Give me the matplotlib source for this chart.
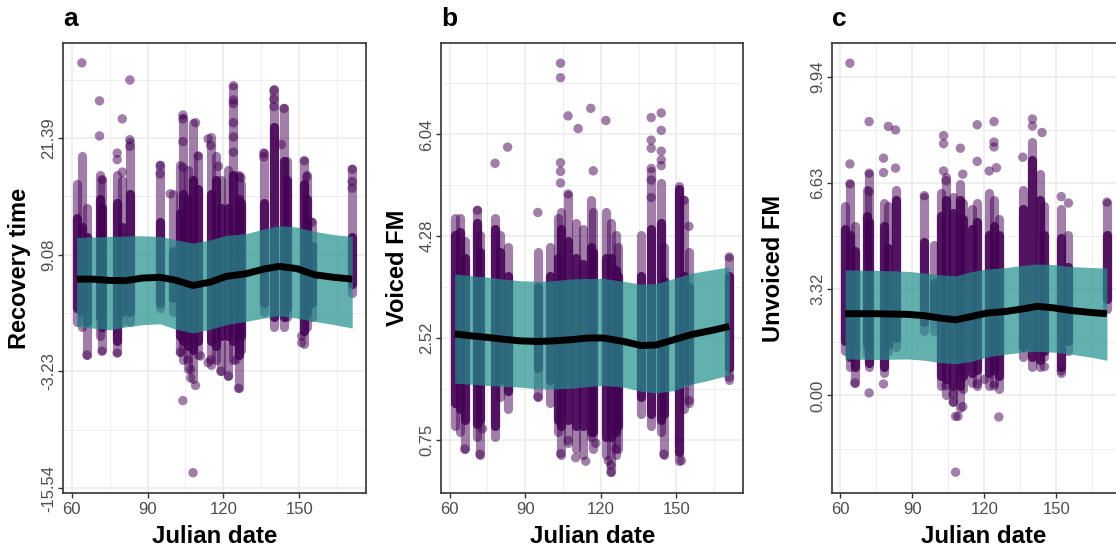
import matplotlib.pyplot as plt

plt.rcParams['font.family'] = ['Liberation Sans', 'DejaVu Sans']

"""
    Data read off the reference
    ------------------------------------------------------------
"""
# Dates where the smooth fit and its ribbon were read.
fit_days = [62, 68, 75, 81, 88, 95, 101, 108, 115, 121, 129, 136, 142, 149, 156, 164, 171]

# a - Recovery time
rec_mid = [6.51, 6.51, 6.37, 6.34, 6.62, 6.70, 6.40, 5.84, 6.20, 6.79, 7.08, 7.57, 7.85, 7.62, 6.97, 6.69, 6.51]
rec_top = [10.91, 10.95, 11.01, 11.05, 11.08, 11.01, 10.66, 10.31, 10.66, 11.12, 11.30, 11.79, 12.14, 12.0, 11.54, 11.19, 11.01]
rec_bot = [1.52, 1.35, 1.17, 1.45, 1.70, 1.80, 1.24, 0.82, 1.24, 1.70, 2.05, 2.40, 2.65, 2.40, 2.05, 1.70, 1.35]

rec_days = [62, 64, 66, 71, 72, 78, 80, 83, 95, 100, 103, 104, 106, 108, 110, 115, 117, 119,
            122, 124, 126, 127, 136, 140, 144, 145, 152, 153, 155, 171]
rec_lo = [2.0, 1.5, -1.5, 0.5, -1.0, -1.2, 2.0, 2.0, 3.5, 3.0, -1.2, -2.0, -3.0, -4.0, -1.5, -2.5, -2.0, -3.2,
          -3.7, -2.0, -5.0, -1.0, 3.0, 1.5, 1.5, 2.5, -0.3, 1.5, 2.5, 5.0]
rec_core_lo = [3.5, 3.0, 2.0, 2.5, 1.5, 0.0, 3.0, 3.0, 4.0, 4.5, 0.5, 0.0, -0.5, -1.0, 0.0, 0.0, -0.5, 0.5,
               0.5, 0.0, -1.5, 0.5, 4.0, 2.5, 2.5, 3.5, 1.0, 3.0, 4.0, 6.0]
rec_core_hi = [13.0, 12.0, 11.0, 15.0, 14.0, 14.5, 12.0, 15.5, 12.5, 9.5, 13.5, 15.5, 15.0, 17.0, 16.0, 15.5, 17.0, 14.0,
               14.0, 17.5, 15.0, 14.5, 14.5, 22.5, 19.0, 17.0, 16.5, 15.0, 10.0, 11.0]
rec_hi = [16.5, 19.5, 14.0, 17.5, 17.0, 17.5, 17.0, 21.0, 18.5, 15.5, 18.5, 23.5, 18.0, 23.0, 19.5, 21.5, 19.5, 17.0,
          18.0, 26.8, 17.5, 16.5, 19.8, 26.5, 24.5, 19.0, 19.0, 17.5, 12.5, 18.1]
rec_out_x = [64, 71, 71, 72, 78, 78, 80, 80, 83, 83, 83, 95, 95, 99, 104, 104, 104, 104, 109, 110, 114, 115, 118,
             124, 124, 124, 124, 124, 124, 126, 127, 136, 136, 140, 140, 140, 144, 143, 152, 153, 155, 171, 171, 171,
             66, 72, 78, 103, 104, 106, 107, 107, 108, 109, 111, 114, 115, 119, 122, 125, 126, 151, 151]
rec_out_y = [29.3, 25.3, 21.6, 17.0, 19.8, 19.1, 23.4, 17.8, 27.5, 21.2, 20.5, 18.5, 17.6, 15.5, 23.8, 23.4, 21.0, 18.3,
             23.0, 19.5, 21.3, 20.6, 18.4, 26.9, 25.4, 25.0, 23.0, 21.5, 19.9, 17.3, 17.2, 19.8, 19.4, 26.4, 25.5, 24.7,
             24.5, 20.7, 19.0, 17.3, 12.5, 18.1, 16.8, 16.1,
             -1.5, -1.1, -1.3, -1.2, -6.3, -2.0, -3.0, -3.9, -13.9, -4.7, -1.6, -2.3, -2.0, -3.2, -3.7, -2.0, -5.0, 0.5, -0.2]

# b - Voiced FM
voi_mid = [2.59, 2.56, 2.53, 2.50, 2.47, 2.46, 2.47, 2.49, 2.52, 2.52, 2.46, 2.39, 2.40, 2.49, 2.58, 2.65, 2.72]
voi_top = [3.63, 3.60, 3.57, 3.54, 3.51, 3.50, 3.51, 3.54, 3.55, 3.55, 3.50, 3.45, 3.46, 3.55, 3.64, 3.70, 3.75]
voi_bot = [1.74, 1.72, 1.70, 1.685, 1.67, 1.64, 1.64, 1.65, 1.68, 1.70, 1.67, 1.60, 1.57, 1.61, 1.72, 1.80, 1.88]

voi_days = [62, 64, 66, 71, 72, 78, 80, 83, 95, 100, 103, 104, 107, 110, 113, 116, 117, 122,
            124, 126, 127, 136, 140, 144, 145, 151, 153, 155, 171]
voi_lo = [1.0, 0.9, 0.6, 0.8, 0.5, 0.8, 1.5, 1.3, 1.5, 1.4, 0.9, 0.5, 0.7, 0.6, 0.5, 0.8, 0.6, 0.5,
          0.2, 0.5, 0.6, 1.2, 1.0, 0.9, 0.5, 0.4, 1.3, 1.4, 1.8]
voi_core_lo = [1.4, 1.3, 1.1, 1.04, 1.1, 1.0, 1.8, 1.6, 2.0, 1.8, 1.1, 1.0, 1.1, 1.0, 1.0, 0.9, 0.9, 0.8,
               0.8, 0.9, 1.0, 1.5, 1.2, 1.1, 1.2, 0.55, 1.8, 1.8, 2.0]
voi_core_hi = [4.3, 4.35, 3.9, 4.5, 4.0, 4.4, 4.0, 3.6, 3.4, 3.6, 3.9, 4.4, 4.2, 3.9, 3.8, 4.1, 4.0, 3.9,
               3.9, 3.7, 3.6, 3.6, 4.4, 4.5, 3.5, 5.1, 3.6, 3.4, 3.6]
voi_hi = [4.6, 4.6, 4.2, 4.73, 4.3, 4.6, 4.3, 4.1, 4.0, 4.1, 4.6, 4.7, 5.0, 4.5, 4.4, 4.9, 4.7, 4.7,
          4.5, 4.3, 4.1, 4.3, 5.4, 5.2, 4.1, 5.15, 4.9, 4.0, 3.9]
voi_out_x = [104, 104, 104, 104, 104, 107, 107, 111, 116, 117, 122, 78, 83, 71, 95, 140, 140, 140, 140, 140, 140,
             144, 144, 144, 144, 144, 153, 155, 171,
             66, 72, 73, 104, 107, 110, 114, 118, 123, 124, 124, 126, 145, 152, 155, 95, 171]
voi_out_y = [7.27, 7.02, 5.55, 5.40, 5.20, 6.36, 5.01, 6.14, 6.49, 5.41, 6.28, 5.54, 5.82, 4.73, 4.69, 6.33, 5.94,
             5.80, 5.45, 5.25, 4.95, 6.41, 6.11, 5.75, 5.60, 5.50, 4.9, 4.45, 3.92,
             0.60, 0.51, 0.95, 0.52, 0.75, 0.45, 0.39, 0.70, 0.40, 0.20, 0.32, 0.60, 0.51, 0.40, 1.44, 1.50, 1.84]

# c - Unvoiced FM
unv_mid = [2.55, 2.55, 2.55, 2.54, 2.53, 2.49, 2.42, 2.36, 2.47, 2.57, 2.62, 2.70, 2.78, 2.73, 2.65, 2.59, 2.55]
unv_top = [3.92, 3.91, 3.90, 3.89, 3.87, 3.82, 3.77, 3.73, 3.87, 3.94, 3.99, 4.06, 4.10, 4.08, 4.02, 3.99, 3.97]
unv_bot = [1.14, 1.13, 1.12, 1.13, 1.14, 1.10, 1.03, 0.99, 1.07, 1.20, 1.29, 1.35, 1.38, 1.35, 1.29, 1.20, 1.10]

unv_days = [62, 64, 66, 71, 72, 78, 80, 83, 95, 99, 102, 104, 107, 110, 111, 115, 117, 122,
            124, 126, 136, 140, 143, 145, 152, 155, 171]
unv_lo = [1.4, 0.9, 0.4, 1.3, 0.9, 0.7, 1.4, 1.5, 2.0, 2.0, 0.3, 0.0, -0.2, -0.4, 0.2, 0.4, 0.3, 0.3,
          0.4, 0.2, 1.2, 0.9, 0.9, 1.2, 0.7, 1.4, 2.7]
unv_core_lo = [1.7, 1.2, 0.9, 1.6, 1.0, 0.9, 1.6, 1.8, 2.3, 2.5, 0.6, 0.5, 0.3, 0.3, 0.6, 0.7, 0.8, 0.7,
               0.8, 0.6, 1.5, 1.2, 1.1, 1.4, 0.9, 1.7, 3.0]
unv_core_hi = [5.2, 5.0, 4.5, 5.6, 5.4, 5.3, 4.6, 6.1, 4.8, 3.5, 5.6, 6.1, 5.7, 6.1, 5.5, 5.2, 5.4, 5.0,
               5.3, 5.0, 5.8, 7.35, 6.1, 5.0, 4.9, 4.0, 5.0]
unv_hi = [5.9, 6.6, 5.3, 6.4, 6.9, 6.0, 5.9, 6.4, 6.2, 4.7, 6.3, 6.8, 6.2, 6.6, 6.0, 5.8, 6.0, 6.3,
          6.1, 5.5, 6.4, 7.9, 6.9, 5.9, 5.8, 5.0, 6.0]
unv_out_x = [64, 64, 64, 72, 72, 72, 78, 78, 80, 83, 83, 95, 103, 103, 103, 104, 110, 111, 117, 117, 122, 124, 124,
             124, 125, 136, 140, 140, 144, 152, 155, 171,
             66, 72, 78, 104, 107, 107, 108, 109, 108, 111, 117, 120, 124, 126, 145, 152]
unv_out_y = [10.36, 7.22, 6.6, 8.54, 6.93, 6.36, 7.40, 6.95, 8.39, 8.28, 7.09, 6.23, 8.1, 7.85, 7.0, 6.7, 7.71, 6.9,
             8.44, 7.3, 7.0, 8.54, 7.9, 7.75, 7.1, 7.43, 8.62, 8.40, 8.2, 6.2, 6.0, 6.03,
             0.39, 0.08, 0.36, 0.31, 0.05, -0.2, -0.65, -0.65, -2.39, -0.35, 0.36, 0.5, 0.3, -0.67, 0.9, 0.77]

# Axis ticks and labels.
x_ticks = [60, 90, 120, 150]
x_minor = [75, 105, 135, 165]
rec_ticks = [21.39, 9.08, -3.23, -15.54]
rec_minor = [27.545, 15.235, 2.925, -9.385]
voi_ticks = [6.04, 4.28, 2.52, 0.75]
voi_minor = [6.92, 5.16, 3.40, 1.635]
unv_ticks = [9.94, 6.63, 3.32, 0.00]
unv_minor = [8.285, 4.975, 1.665, -1.655]

"""
    Plot
    ------------------------------------------------------------
"""
PURPLE = '#440154'
TEAL = '#21908C'
W, H = 1116, 552

fig = plt.figure(figsize=(W / 100, H / 100), dpi=100)


def panel(left, right, letter, ylabel, ylab_x, days, lo, core_lo, core_hi, hi,
          out_x, out_y, mid, top, bot, ticks, minor, ylim):
    ax = fig.add_axes([left / W, 1 - 493 / H, (right - left) / W, 450 / H])
    ax.set_xlim(56.55, 176.45)
    ax.set_ylim(*ylim)

    # grid, drawn by hand so major and minor differ in width
    for v in x_ticks:
        ax.axvline(v, color='#EBEBEB', lw=1.1, zorder=0)
    for v in x_minor:
        ax.axvline(v, color='#EBEBEB', lw=0.6, zorder=0)
    for v in ticks:
        ax.axhline(v, color='#EBEBEB', lw=1.1, zorder=0)
    for v in minor:
        ax.axhline(v, color='#EBEBEB', lw=0.6, zorder=0)

    # stacks of semi transparent points: loose part, dense part, stragglers
    ax.vlines(days, lo, hi, colors=PURPLE, alpha=0.5, lw=6.6,
              capstyle='round', zorder=2)
    ax.vlines(days, core_lo, core_hi, colors=PURPLE, alpha=0.85, lw=6.6,
              capstyle='round', zorder=2)
    ax.scatter(out_x, out_y, s=46, color=PURPLE, alpha=0.5, edgecolors='none', zorder=2)

    # model fit
    ax.fill_between(fit_days, bot, top, color=TEAL, alpha=0.7, lw=0, zorder=3)
    ax.plot(fit_days, mid, color='black', lw=5, solid_capstyle='butt', zorder=4)

    ax.set_xticks(x_ticks)
    ax.set_xticklabels([str(t) for t in x_ticks])
    ax.set_yticks(ticks)
    ax.set_yticklabels(['%.2f' % t for t in ticks])
    ax.tick_params(length=3.6, width=1, color='#333333', labelcolor='#4D4D4D',
                   labelsize=12)
    ax.tick_params(axis='x', pad=3.2)
    ax.tick_params(axis='y', pad=1)
    for t in ax.get_yticklabels():
        t.set_rotation(90)
        t.set_va('center')
    for s in ax.spines.values():
        s.set_color('#333333')
        s.set_linewidth(1.2)
        s.set_zorder(5)

    # x title sits under the panel centre (c is as wide as a, partly off the page)
    cx = left + 151.5
    fig.text(left / W, 1 - 26 / H, letter, fontsize=19, fontweight='bold', va='baseline')
    fig.text(ylab_x / W, 1 - 268 / H, ylabel, rotation=90, ha='center', va='center',
             fontsize=17, fontweight='bold')
    fig.text(cx / W, 1 - 543 / H, 'Julian date', ha='center', va='baseline',
             fontsize=17.3, fontweight='bold')
    return ax


panel(63, 366, 'a', 'Recovery time', 20, rec_days, rec_lo, rec_core_lo, rec_core_hi, rec_hi,
      rec_out_x, rec_out_y, rec_mid, rec_top, rec_bot, rec_ticks, rec_minor, (-16.04, 31.4))
panel(441, 743, 'b', 'Voiced FM', 397, voi_days, voi_lo, voi_core_lo, voi_core_hi, voi_hi,
      voi_out_x, voi_out_y, voi_mid, voi_top, voi_bot, voi_ticks, voi_minor, (-0.16, 7.62))
panel(832, 1120, 'c', 'Unvoiced FM', 774, unv_days, unv_lo, unv_core_lo, unv_core_hi, unv_hi,
      unv_out_x, unv_out_y, unv_mid, unv_top, unv_bot, unv_ticks, unv_minor, (-3.04, 10.99))

plt.savefig('out.png', dpi=100)
